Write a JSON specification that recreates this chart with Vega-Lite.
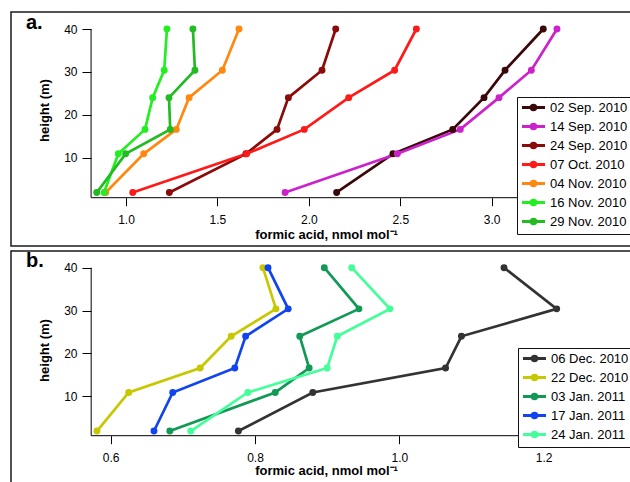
{
  "$schema": "https://vega.github.io/schema/vega-lite/v6.json",
  "padding": {"left": 10, "top": 11, "right": 0, "bottom": 0},
  "spacing": 2,
  "background": "white",
  "datasets": {
    "a": [
      {"s": "02 Sep. 2010", "h": 1.9, "v": 2.152}, {"s": "02 Sep. 2010", "h": 10.9, "v": 2.460}, {"s": "02 Sep. 2010", "h": 16.6, "v": 2.787}, {"s": "02 Sep. 2010", "h": 24, "v": 2.958}, {"s": "02 Sep. 2010", "h": 30.4, "v": 3.073}, {"s": "02 Sep. 2010", "h": 40, "v": 3.282},
      {"s": "14 Sep. 2010", "h": 1.9, "v": 1.870}, {"s": "14 Sep. 2010", "h": 10.9, "v": 2.484}, {"s": "14 Sep. 2010", "h": 16.6, "v": 2.828}, {"s": "14 Sep. 2010", "h": 24, "v": 3.040}, {"s": "14 Sep. 2010", "h": 30.4, "v": 3.217}, {"s": "14 Sep. 2010", "h": 40, "v": 3.357},
      {"s": "24 Sep. 2010", "h": 1.9, "v": 1.237}, {"s": "24 Sep. 2010", "h": 10.9, "v": 1.656}, {"s": "24 Sep. 2010", "h": 16.6, "v": 1.826}, {"s": "24 Sep. 2010", "h": 24, "v": 1.888}, {"s": "24 Sep. 2010", "h": 30.4, "v": 2.072}, {"s": "24 Sep. 2010", "h": 40, "v": 2.147},
      {"s": "07 Oct. 2010", "h": 1.9, "v": 1.037}, {"s": "07 Oct. 2010", "h": 10.9, "v": 1.660}, {"s": "07 Oct. 2010", "h": 16.6, "v": 1.975}, {"s": "07 Oct. 2010", "h": 24, "v": 2.218}, {"s": "07 Oct. 2010", "h": 30.4, "v": 2.469}, {"s": "07 Oct. 2010", "h": 40, "v": 2.588},
      {"s": "04 Nov. 2010", "h": 1.9, "v": 0.889}, {"s": "04 Nov. 2010", "h": 10.9, "v": 1.097}, {"s": "04 Nov. 2010", "h": 16.6, "v": 1.275}, {"s": "04 Nov. 2010", "h": 24, "v": 1.345}, {"s": "04 Nov. 2010", "h": 30.4, "v": 1.527}, {"s": "04 Nov. 2010", "h": 40, "v": 1.618},
      {"s": "16 Nov. 2010", "h": 1.9, "v": 0.880}, {"s": "16 Nov. 2010", "h": 10.9, "v": 0.958}, {"s": "16 Nov. 2010", "h": 16.6, "v": 1.104}, {"s": "16 Nov. 2010", "h": 24, "v": 1.146}, {"s": "16 Nov. 2010", "h": 30.4, "v": 1.209}, {"s": "16 Nov. 2010", "h": 40, "v": 1.224},
      {"s": "29 Nov. 2010", "h": 1.9, "v": 0.840}, {"s": "29 Nov. 2010", "h": 10.9, "v": 0.998}, {"s": "29 Nov. 2010", "h": 16.6, "v": 1.242}, {"s": "29 Nov. 2010", "h": 24, "v": 1.235}, {"s": "29 Nov. 2010", "h": 30.4, "v": 1.377}, {"s": "29 Nov. 2010", "h": 40, "v": 1.366}
    ],
    "b": [
      {"s": "06 Dec. 2010", "h": 1.9, "v": 0.777}, {"s": "06 Dec. 2010", "h": 10.9, "v": 0.880}, {"s": "06 Dec. 2010", "h": 16.6, "v": 1.064}, {"s": "06 Dec. 2010", "h": 24, "v": 1.086}, {"s": "06 Dec. 2010", "h": 30.4, "v": 1.218}, {"s": "06 Dec. 2010", "h": 40, "v": 1.145},
      {"s": "22 Dec. 2010", "h": 1.9, "v": 0.581}, {"s": "22 Dec. 2010", "h": 10.9, "v": 0.625}, {"s": "22 Dec. 2010", "h": 16.6, "v": 0.724}, {"s": "22 Dec. 2010", "h": 24, "v": 0.767}, {"s": "22 Dec. 2010", "h": 30.4, "v": 0.829}, {"s": "22 Dec. 2010", "h": 40, "v": 0.811},
      {"s": "03 Jan. 2011", "h": 1.9, "v": 0.682}, {"s": "03 Jan. 2011", "h": 10.9, "v": 0.828}, {"s": "03 Jan. 2011", "h": 16.6, "v": 0.875}, {"s": "03 Jan. 2011", "h": 24, "v": 0.862}, {"s": "03 Jan. 2011", "h": 30.4, "v": 0.944}, {"s": "03 Jan. 2011", "h": 40, "v": 0.896},
      {"s": "17 Jan. 2011", "h": 1.9, "v": 0.660}, {"s": "17 Jan. 2011", "h": 10.9, "v": 0.686}, {"s": "17 Jan. 2011", "h": 16.6, "v": 0.772}, {"s": "17 Jan. 2011", "h": 24, "v": 0.787}, {"s": "17 Jan. 2011", "h": 30.4, "v": 0.846}, {"s": "17 Jan. 2011", "h": 40, "v": 0.818},
      {"s": "24 Jan. 2011", "h": 1.9, "v": 0.711}, {"s": "24 Jan. 2011", "h": 10.9, "v": 0.790}, {"s": "24 Jan. 2011", "h": 16.6, "v": 0.900}, {"s": "24 Jan. 2011", "h": 24, "v": 0.914}, {"s": "24 Jan. 2011", "h": 30.4, "v": 0.987}, {"s": "24 Jan. 2011", "h": 40, "v": 0.934}
    ]
  },
  "resolve": {"scale": {"color": "independent"}},
  "vconcat": [
    {
      "width": 630,
      "height": 234,
      "layer": [
        {
          "data": {"name": "a"},
          "mark": {"type": "line", "strokeWidth": 2.7, "point": {"filled": true, "size": 48, "opacity": 1}},
          "encoding": {
            "x": {"field": "v", "type": "quantitative", "scale": {"domain": [0.3711, 3.8165], "nice": false, "zero": false},
                  "axis": {"values": [1, 1.5, 2, 2.5, 3], "format": ".1f", "offset": -48.3, "domain": false, "grid": false, "tickSize": 8, "labelPadding": 9, "title": "formic acid, nmol mol⁻¹", "titlePadding": 3}},
            "y": {"field": "h", "type": "quantitative", "scale": {"domain": [-10.583, 43.963], "nice": false, "zero": false},
                  "axis": {"values": [10, 20, 30, 40], "format": "d", "offset": -80, "domain": false, "grid": false, "tickSize": 9, "labelPadding": 5, "title": "height (m)", "titleY": 98, "titlePadding": 12}},
            "color": {"field": "s", "type": "nominal",
                      "scale": {"domain": ["02 Sep. 2010", "14 Sep. 2010", "24 Sep. 2010", "07 Oct. 2010", "04 Nov. 2010", "16 Nov. 2010", "29 Nov. 2010"],
                                "range": ["#3a0808", "#cc22cc", "#8b0b0b", "#ff1a1a", "#ff8811", "#22ee22", "#22bb22"]},
                      "legend": {"title": null, "orient": "none", "legendX": 506, "legendY": 85, "padding": 4, "strokeColor": "#111", "fillColor": "white",
                                 "symbolType": "M-2.3,0H2.3M0.45,0A0.45,0.45,0,1,1,-0.45,0A0.45,0.45,0,1,1,0.45,0ZM0.15,0A0.15,0.15,0,1,1,-0.15,0A0.15,0.15,0,1,1,0.15,0Z",
                                 "symbolSize": 100, "symbolStrokeWidth": 3, "symbolOffset": 6, "labelFontSize": 13, "labelOffset": 10, "rowPadding": 2, "labelColor": "black", "symbolOpacity": 1}},
            "order": {"field": "h", "type": "quantitative"}
          }
        },
        {
          "data": {"values": [{}]},
          "mark": {"type": "rule", "color": "black", "strokeWidth": 1},
          "encoding": {"x": {"datum": 0.809}, "x2": {"datum": 3.357}, "y": {"datum": 0.677}}
        },
        {
          "data": {"values": [{}]},
          "mark": {"type": "rule", "color": "black", "strokeWidth": 1},
          "encoding": {"x": {"datum": 0.809}, "y": {"datum": 0.677}, "y2": {"datum": 40}}
        },
        {
          "data": {"values": [{}]},
          "mark": {"type": "text", "text": "a.", "fontSize": 20, "fontWeight": "bold", "align": "left", "baseline": "alphabetic", "color": "black"},
          "encoding": {"x": {"datum": 0.453}, "y": {"datum": 39.9}}
        }
      ]
    },
    {
      "width": 630,
      "height": 240,
      "layer": [
        {
          "data": {"name": "b"},
          "mark": {"type": "line", "strokeWidth": 2.7, "point": {"filled": true, "size": 48, "opacity": 1}},
          "encoding": {
            "x": {"field": "v", "type": "quantitative", "scale": {"domain": [0.4619, 1.3348], "nice": false, "zero": false},
                  "axis": {"values": [0.6, 0.8, 1.0, 1.2], "format": ".1f", "offset": -55.3, "domain": false, "grid": false, "tickSize": 8, "labelPadding": 9, "title": "formic acid, nmol mol⁻¹", "titlePadding": 1}},
            "y": {"field": "h", "type": "quantitative", "scale": {"domain": [-12.088, 43.896], "nice": false, "zero": false},
                  "axis": {"values": [10, 20, 30, 40], "format": "d", "offset": -80, "domain": false, "grid": false, "tickSize": 9, "labelPadding": 5, "title": "height (m)", "titleY": 99, "titlePadding": 12}},
            "color": {"field": "s", "type": "nominal",
                      "scale": {"domain": ["06 Dec. 2010", "22 Dec. 2010", "03 Jan. 2011", "17 Jan. 2011", "24 Jan. 2011"],
                                "range": ["#333333", "#c8c800", "#119955", "#1144ee", "#44ff99"]},
                      "legend": {"title": null, "orient": "none", "legendX": 507, "legendY": 97, "padding": 4, "strokeColor": "#111", "fillColor": "white",
                                 "symbolType": "M-2.3,0H2.3M0.45,0A0.45,0.45,0,1,1,-0.45,0A0.45,0.45,0,1,1,0.45,0ZM0.15,0A0.15,0.15,0,1,1,-0.15,0A0.15,0.15,0,1,1,0.15,0Z",
                                 "symbolSize": 100, "symbolStrokeWidth": 3, "symbolOffset": 6, "labelFontSize": 13, "labelOffset": 10, "rowPadding": 2, "labelColor": "black", "symbolOpacity": 1}},
            "order": {"field": "h", "type": "quantitative"}
          }
        },
        {
          "data": {"values": [{}]},
          "mark": {"type": "rule", "color": "black", "strokeWidth": 1},
          "encoding": {"x": {"datum": 0.573}, "x2": {"datum": 1.218}, "y": {"datum": 0.812}}
        },
        {
          "data": {"values": [{}]},
          "mark": {"type": "rule", "color": "black", "strokeWidth": 1},
          "encoding": {"x": {"datum": 0.573}, "y": {"datum": 0.812}, "y2": {"datum": 40}}
        },
        {
          "data": {"values": [{}]},
          "mark": {"type": "text", "text": "b.", "fontSize": 20, "fontWeight": "bold", "align": "left", "baseline": "alphabetic", "color": "black"},
          "encoding": {"x": {"datum": 0.4826}, "y": {"datum": 40.23}}
        }
      ]
    }
  ],
  "config": {
    "font": "Liberation Sans",
    "view": {"stroke": "#1a1a1a", "strokeWidth": 1.5},
    "axis": {"labelFont": "Liberation Sans", "labelFontSize": 12, "labelColor": "black", "titleFont": "Liberation Sans", "titleFontSize": 13, "titleFontWeight": "bold", "titleColor": "black", "tickColor": "black", "tickWidth": 1},
    "legend": {"labelFont": "Liberation Sans"}
  }
}
